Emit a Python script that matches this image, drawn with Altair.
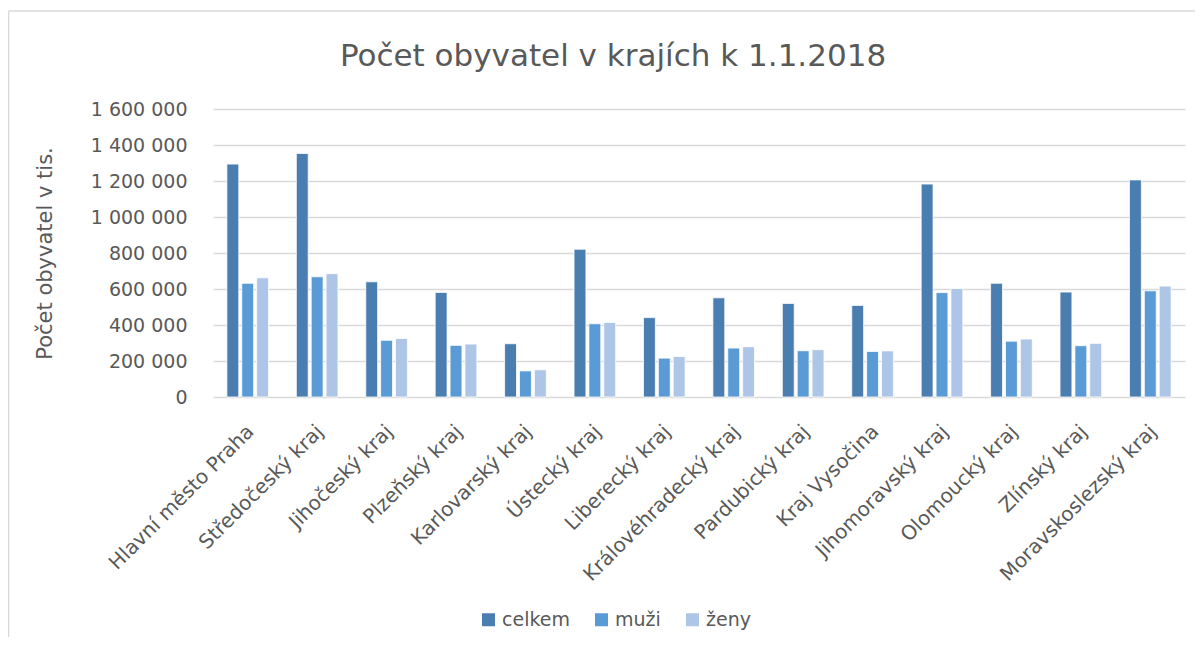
import altair as alt
import pandas as pd

kraje = [
    "Hlavní město Praha", "Středočeský kraj", "Jihočeský kraj", "Plzeňský kraj",
    "Karlovarský kraj", "Ústecký kraj", "Liberecký kraj", "Královéhradecký kraj",
    "Pardubický kraj", "Kraj Vysočina", "Jihomoravský kraj", "Olomoucký kraj",
    "Zlínský kraj", "Moravskoslezský kraj",
]
celkem = [1294000, 1353000, 640000, 581000, 296000, 821000, 441000, 551000,
          520000, 509000, 1183000, 632000, 583000, 1206000]
muzi = [632000, 668000, 315000, 287000, 145000, 407000, 216000, 272000,
        257000, 253000, 580000, 310000, 285000, 590000]
zeny = [662000, 685000, 325000, 294000, 151000, 414000, 225000, 279000,
        263000, 256000, 603000, 322000, 298000, 616000]
serie = ["celkem", "muži", "ženy"]
barvy = ["#4a7eb1", "#5b9bd5", "#adc5e7"]
y_ticks = [0, 200000, 400000, 600000, 800000, 1000000, 1200000, 1400000, 1600000]

rows = []
for i, k in enumerate(kraje):
    rows.append({"kraj": k, "serie": "celkem", "hodnota": celkem[i]})
    rows.append({"kraj": k, "serie": "muži", "hodnota": muzi[i]})
    rows.append({"kraj": k, "serie": "ženy", "hodnota": zeny[i]})
df = pd.DataFrame(rows)

FONT = "DejaVu Sans"
GREY = "#595959"

bars = alt.Chart(df).mark_bar(stroke="white", strokeWidth=0.8).encode(
    x=alt.X("kraj:N", sort=kraje, title=None,
            scale=alt.Scale(paddingInner=0.4, paddingOuter=0.2),
            axis=alt.Axis(labelAngle=-45, labelAlign="right", labelBaseline="top",
                          labelPadding=24, labelOffset=-4, ticks=False, domain=False,
                          labelFontSize=20, labelColor=GREY, labelFont=FONT,
                          labelLimit=400, grid=False)),
    xOffset=alt.XOffset("serie:N", sort=serie,
                        scale=alt.Scale(paddingInner=0.2, paddingOuter=0)),
    y=alt.Y("hodnota:Q",
            scale=alt.Scale(domain=[0, 1600000], nice=False),
            axis=alt.Axis(values=y_ticks, ticks=False, domain=False,
                          labelExpr="replace(format(datum.value, ','), regexp(',', 'g'), ' ')",
                          labelFontSize=19, labelColor=GREY, labelFont=FONT,
                          labelPadding=26, gridColor="#d9d9d9", gridWidth=1.5,
                          title="Počet obyvatel v tis.", titleFont=FONT,
                          titleFontSize=21, titleFontWeight="normal", titleColor=GREY,
                          titleX=-168, titleY=144, titleAlign="center",
                          titleBaseline="middle", titleAngle=270)),
    color=alt.Color("serie:N", sort=serie,
                    scale=alt.Scale(domain=serie, range=barvy),
                    legend=alt.Legend(orient="none", legendX=266, legendY=501,
                                      direction="horizontal", title=None,
                                      symbolType="square", symbolSize=169,
                                      symbolStrokeWidth=0, labelFontSize=19,
                                      labelColor=GREY, labelFont=FONT,
                                      columnPadding=22, labelOffset=4, padding=0)),
)

frame_df = pd.DataFrame({"f": [0]})
frame_left = alt.Chart(frame_df).mark_rule(color="#d9d9d9", strokeWidth=1.5).encode(
    x=alt.value(-204.5), y=alt.value(-98), y2=alt.value(560))
frame_top = alt.Chart(frame_df).mark_rule(color="#d9d9d9", strokeWidth=1.5).encode(
    x=alt.value(-204.5), x2=alt.value(1000), y=alt.value(-98))

chart = alt.layer(bars, frame_left, frame_top).properties(
    width=972,
    height=288,
    title=alt.TitleParams("Počet obyvatel v krajích k 1.1.2018", font=FONT,
                          fontSize=31, fontWeight="normal", color=GREY,
                          anchor="middle", frame="group", dx=-86, offset=-87,
                          baseline="alphabetic"),
    autosize=alt.AutoSizeParams(type="none"),
    padding={"left": 205, "top": 101, "right": 10, "bottom": 240},
).configure_view(stroke=None)

chart.save("out.html", embed_options={"renderer": "svg", "actions": False})
